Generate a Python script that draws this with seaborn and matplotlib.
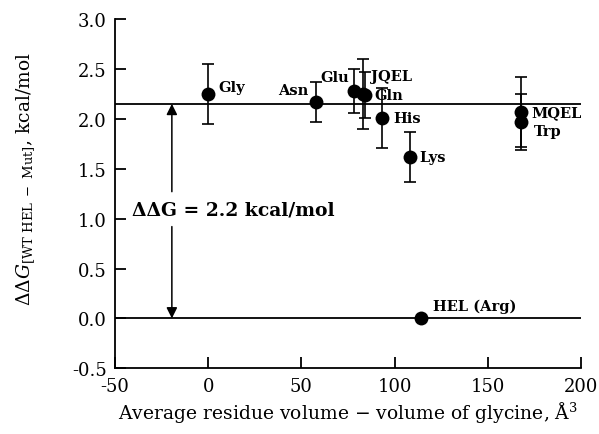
import matplotlib
matplotlib.use("Agg")
import matplotlib.pyplot as plt
import seaborn as sns
import pandas as pd

sns.set_style("ticks")
plt.rcParams["font.family"] = ["DejaVu Serif"]
plt.rcParams["mathtext.fontset"] = "dejavuserif"
plt.rcParams["text.color"] = "black"
plt.rcParams["axes.labelcolor"] = "black"
plt.rcParams["xtick.color"] = "black"
plt.rcParams["ytick.color"] = "black"
plt.rcParams["axes.edgecolor"] = "black"

names = ["Gly", "Asn", "Glu", "JQEL", "Gln", "His", "Lys", "MQEL", "Trp", "HEL (Arg)"]
volume = [0, 58, 78, 83, 84, 93, 108, 168, 168, 114]
ddg = [2.25, 2.17, 2.28, 2.25, 2.24, 2.01, 1.62, 2.07, 1.97, 0.0]
err = [0.30, 0.20, 0.22, 0.35, 0.23, 0.30, 0.25, 0.35, 0.28, 0.0]
mean_ddg = 2.15

# label offsets in pixels (dx, dy) and alignment
offsets = [(10, 7), (-8, 12), (-4, 14), (8, 18), (10, 0), (12, 0), (10, 0), (10, 0), (12, -9), (12, 13)]
aligns = ["left", "right", "right", "left", "left", "left", "left", "left", "left", "left"]

df = pd.DataFrame({"name": names, "volume": volume, "ddg": ddg, "err": err})

fig = plt.figure(figsize=(5.99, 4.35), dpi=100)
ax = fig.add_axes([0.192, 0.151, 0.778, 0.803])

ax.axhline(mean_ddg, color="black", lw=1.3, zorder=1)
ax.axhline(0, color="black", lw=1.3, zorder=1)

ax.errorbar(df["volume"], df["ddg"], yerr=df["err"], fmt="none", ecolor="black",
            elinewidth=1.2, capsize=4, capthick=1.2, zorder=2)
sns.scatterplot(data=df, x="volume", y="ddg", ax=ax, color="black", s=100,
                edgecolor="black", linewidth=0, zorder=3, legend=False)

for n, x, y, (dx, dy), ha in zip(names, volume, ddg, offsets, aligns):
    ax.annotate(n, (x, y), xytext=(dx, dy), textcoords="offset pixels",
                ha=ha, va="center", fontsize=10.5, fontweight="bold")

ax.text(-41, 1.09, "ΔΔG = 2.2 kcal/mol", fontsize=13.5, fontweight="bold",
        ha="left", va="center")
arrow = dict(arrowstyle="-|>", color="black", lw=1.1, mutation_scale=16, shrinkA=0, shrinkB=0)
ax.annotate("", xy=(-19.5, mean_ddg), xytext=(-19.5, 1.27), arrowprops=arrow)
ax.annotate("", xy=(-19.5, 0), xytext=(-19.5, 0.92), arrowprops=arrow)

ax.set_xlim(-50, 200)
ax.set_ylim(-0.5, 3.0)
ax.set_xticks([-50, 0, 50, 100, 150, 200])
ax.set_yticks([-0.5, 0, 0.5, 1.0, 1.5, 2.0, 2.5, 3.0])
ax.set_yticklabels(["-0.5", "0.0", "0.5", "1.0", "1.5", "2.0", "2.5", "3.0"])
ax.set_xticklabels(["-50", "0", "50", "100", "150", "200"])
ax.tick_params(direction="in", length=8, width=1.3, labelsize=13, pad=6)
for s in ["top", "right"]:
    ax.spines[s].set_visible(False)
for s in ["left", "bottom"]:
    ax.spines[s].set_linewidth(1.3)

ax.set_xlabel("Average residue volume − volume of glycine, Å$^3$", fontsize=13.5, labelpad=3)
ax.set_ylabel(r"$\Delta\Delta G_{[\mathrm{WT\ HEL\ -\ Mut}]}$, kcal/mol", fontsize=13.5)
ax.yaxis.set_label_coords(-0.168, 0.545)

fig.savefig("out.png", dpi=100)
